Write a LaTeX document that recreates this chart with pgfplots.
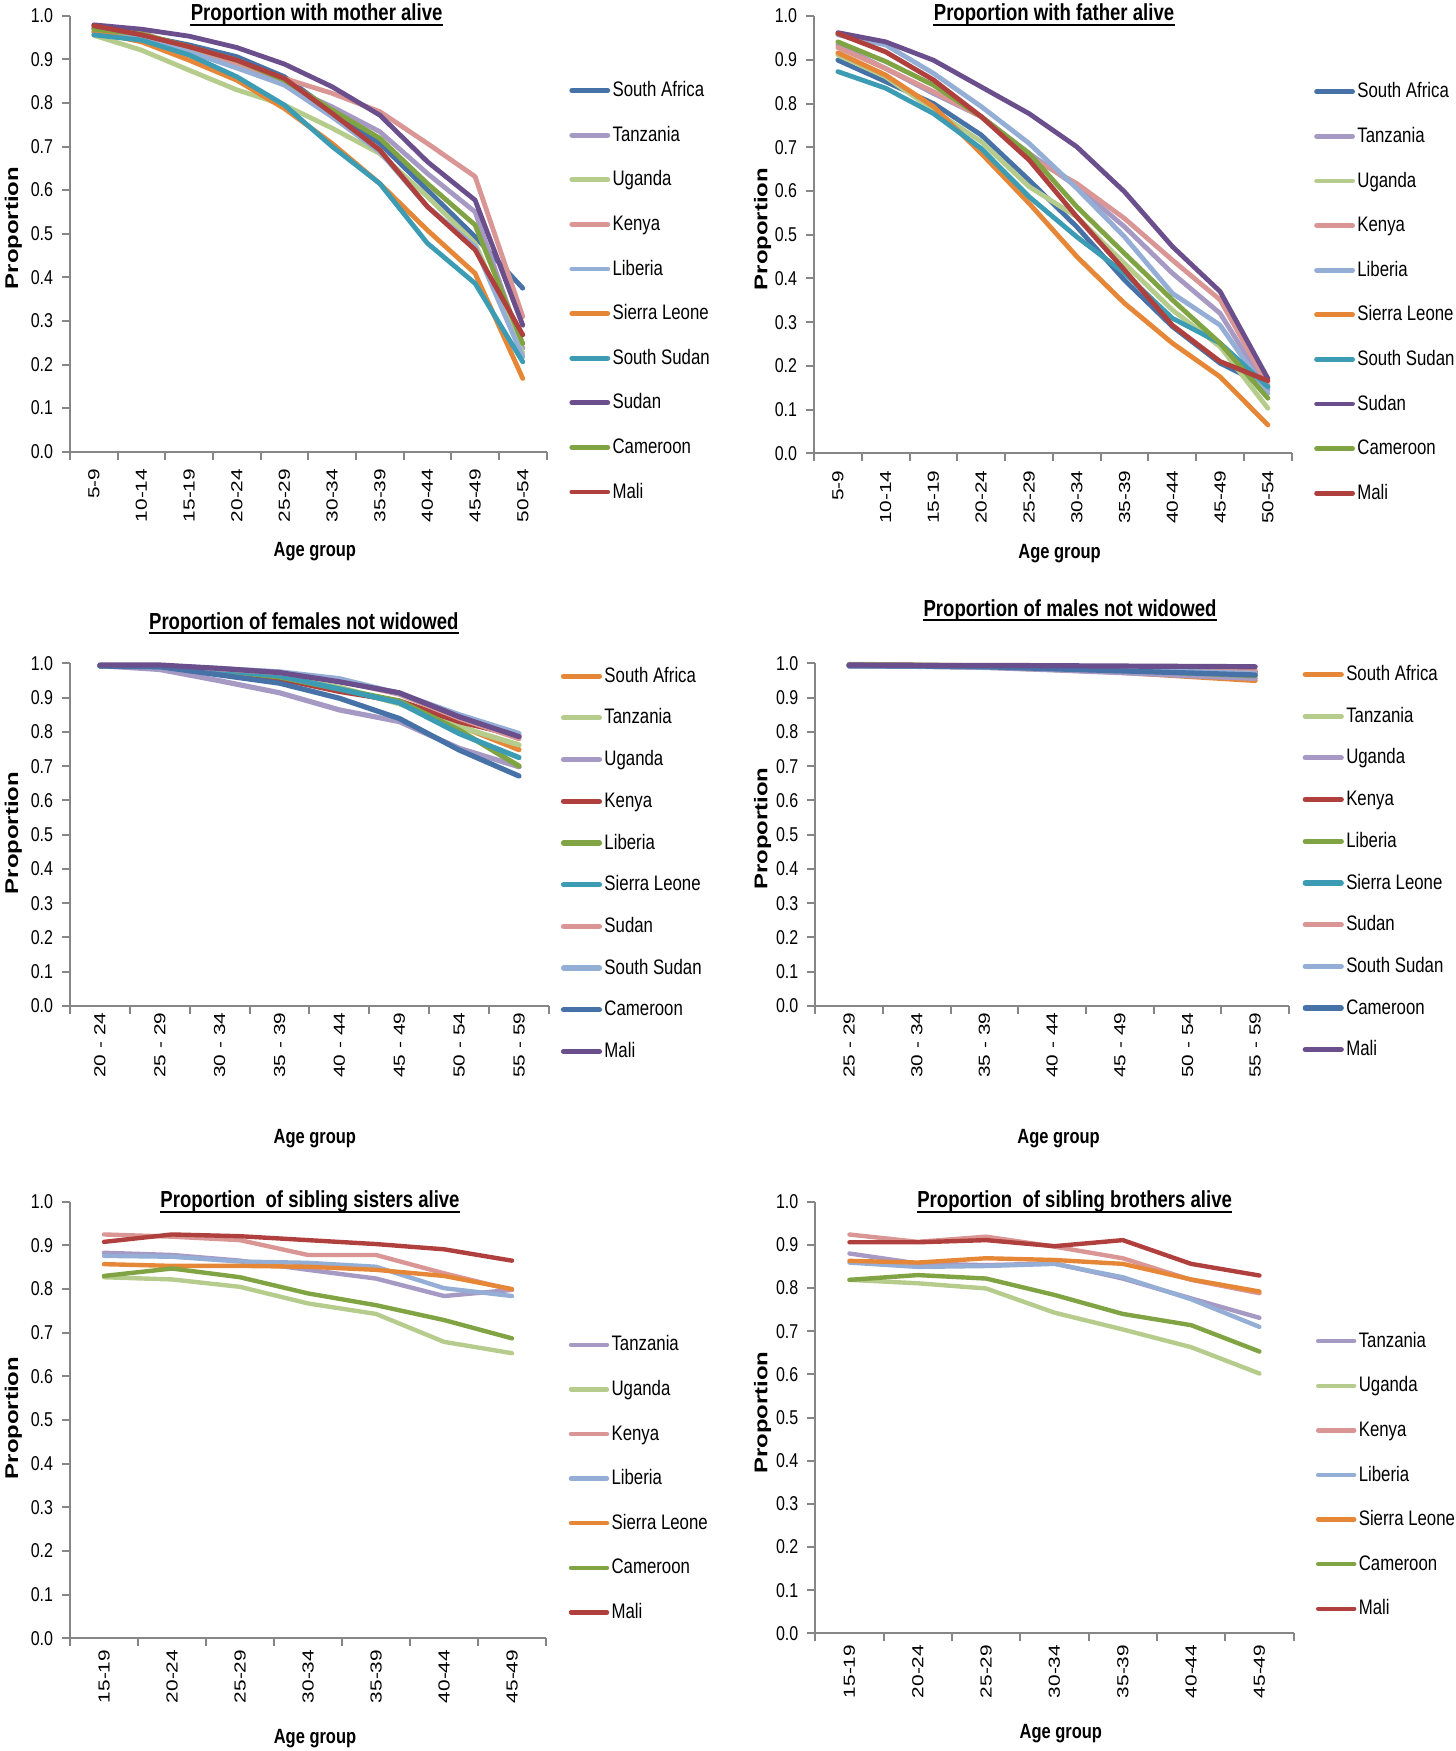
\documentclass[border=0pt]{standalone}
\usepackage{pgfplots}
\usepackage{pgfplotstable}
\pgfplotsset{compat=1.18}
\usepackage{fontspec}
\setmainfont{Liberation Sans}[FakeStretch=0.8]
\newfontfamily\rotfont{Liberation Sans}[FakeStretch=1.3]

\definecolor{cSA}{RGB}{70,114,168}
\definecolor{cTZ}{RGB}{166,153,196}
\definecolor{cUG}{RGB}{181,204,141}
\definecolor{cKE}{RGB}{217,150,148}
\definecolor{cLR}{RGB}{149,174,214}
\definecolor{cSL}{RGB}{230,135,55}
\definecolor{cSS}{RGB}{60,156,180}
\definecolor{cSD}{RGB}{107,79,140}
\definecolor{cCM}{RGB}{128,163,67}
\definecolor{cML}{RGB}{176,64,61}
\definecolor{axgray}{RGB}{134,134,134}

\pgfplotstableread{
x SA TZ UG KE LR SL SS SD CM ML
0 0.971 0.970 0.955 0.974 0.962 0.963 0.956 0.979 0.969 0.977
1 0.955 0.955 0.921 0.962 0.950 0.940 0.944 0.969 0.958 0.956
2 0.933 0.920 0.875 0.921 0.917 0.898 0.910 0.953 0.929 0.929
3 0.906 0.890 0.830 0.890 0.880 0.852 0.860 0.927 0.898 0.898
4 0.860 0.841 0.795 0.856 0.841 0.787 0.795 0.889 0.852 0.856
5 0.780 0.791 0.742 0.822 0.768 0.707 0.700 0.837 0.784 0.776
6 0.707 0.734 0.684 0.780 0.688 0.615 0.615 0.772 0.719 0.692
7 0.600 0.638 0.585 0.707 0.562 0.508 0.478 0.665 0.615 0.562
8 0.493 0.550 0.478 0.631 0.470 0.409 0.386 0.577 0.520 0.463
9 0.375 0.237 0.226 0.310 0.218 0.168 0.206 0.290 0.248 0.268
}\mother

\pgfplotstableread{
x SA TZ UG KE LR SL SS SD CM ML
0 0.899 0.934 0.911 0.928 0.957 0.916 0.873 0.962 0.941 0.960
1 0.850 0.880 0.861 0.880 0.934 0.865 0.835 0.941 0.896 0.918
2 0.800 0.823 0.785 0.827 0.869 0.793 0.777 0.899 0.842 0.854
3 0.728 0.770 0.713 0.770 0.793 0.686 0.697 0.838 0.770 0.770
4 0.625 0.686 0.610 0.678 0.709 0.572 0.587 0.777 0.686 0.671
5 0.518 0.610 0.541 0.617 0.606 0.450 0.495 0.701 0.564 0.541
6 0.396 0.518 0.434 0.537 0.495 0.343 0.412 0.598 0.457 0.419
7 0.290 0.412 0.328 0.442 0.366 0.252 0.309 0.473 0.351 0.293
8 0.206 0.320 0.244 0.351 0.293 0.175 0.252 0.370 0.252 0.210
9 0.152 0.145 0.103 0.156 0.137 0.065 0.152 0.171 0.126 0.166
}\father

\pgfplotstableread{
x SA TZ UG KE LR SL SD SS CM ML
0 0.993 0.993 0.993 0.993 0.993 0.993 0.993 0.993 0.992 0.995
1 0.990 0.990 0.982 0.992 0.991 0.990 0.992 0.993 0.990 0.995
2 0.976 0.978 0.949 0.978 0.979 0.980 0.984 0.985 0.966 0.985
3 0.958 0.960 0.914 0.955 0.960 0.963 0.973 0.975 0.942 0.973
4 0.925 0.930 0.864 0.918 0.925 0.925 0.950 0.955 0.898 0.946
5 0.885 0.882 0.830 0.890 0.890 0.885 0.910 0.912 0.839 0.914
6 0.818 0.815 0.752 0.830 0.805 0.795 0.840 0.850 0.747 0.844
7 0.748 0.762 0.698 0.788 0.700 0.725 0.780 0.795 0.671 0.786
}\females

\pgfplotstableread{
x SA TZ UG KE LR SL SD SS CM ML
0 0.993 0.997 0.992 0.995 0.996 0.994 0.995 0.992 0.993 0.995
1 0.992 0.995 0.991 0.994 0.994 0.993 0.994 0.992 0.992 0.994
2 0.989 0.992 0.988 0.992 0.991 0.991 0.993 0.990 0.990 0.994
3 0.982 0.986 0.981 0.989 0.986 0.987 0.991 0.986 0.984 0.993
4 0.974 0.979 0.973 0.985 0.980 0.981 0.988 0.982 0.978 0.992
5 0.962 0.970 0.964 0.980 0.972 0.975 0.984 0.976 0.972 0.991
6 0.950 0.962 0.956 0.975 0.964 0.968 0.979 0.970 0.966 0.990
}\males

\pgfplotstableread{
x TZ UG KE LR SL CM ML
0 0.883 0.827 0.925 0.876 0.857 0.830 0.908
1 0.878 0.822 0.920 0.874 0.853 0.847 0.925
2 0.865 0.805 0.912 0.863 0.853 0.827 0.921
3 0.844 0.767 0.878 0.860 0.851 0.790 0.912
4 0.824 0.743 0.878 0.851 0.844 0.763 0.903
5 0.784 0.679 0.836 0.802 0.830 0.729 0.891
6 0.798 0.653 0.798 0.784 0.800 0.687 0.865
}\sisters

\pgfplotstableread{
x TZ UG KE LR SL CM ML
0 0.880 0.819 0.924 0.859 0.863 0.819 0.906
1 0.857 0.811 0.907 0.849 0.859 0.830 0.906
2 0.853 0.799 0.919 0.851 0.869 0.822 0.911
3 0.857 0.743 0.896 0.856 0.865 0.784 0.897
4 0.822 0.704 0.869 0.825 0.856 0.740 0.911
5 0.776 0.663 0.819 0.774 0.820 0.714 0.856
6 0.731 0.602 0.788 0.710 0.792 0.653 0.829
}\brothers

\pgfplotsset{
  panel/.style={
    scale only axis, clip=false,
    axis x line*=bottom, axis y line*=left,
    axis line style={-, draw=axgray, line width=1pt},
    ymin=0, ymax=1,
    ytick={0,0.1,0.2,0.3,0.4,0.5,0.6,0.7,0.8,0.9,1},
    yticklabels={0.0,0.1,0.2,0.3,0.4,0.5,0.6,0.7,0.8,0.9,1.0},
    tick align=outside,
    major tick length=4pt, minor tick length=4pt,
    every tick/.style={draw=axgray, line width=1pt},
    major x tick style={draw=none},
    yticklabel style={font=\fontsize{10}{12}\selectfont, inner sep=0pt},
    yticklabel shift=4.3pt,
    xticklabel style={font=\rotfont\fontsize{8}{10}\selectfont, rotate=90, anchor=east, inner sep=0pt},
    every axis plot/.append style={line width=2.4pt, line join=round, line cap=round, mark=none},
    legend style={draw=none, fill=none, inner sep=0pt, font=\fontsize{10.5}{12}\selectfont,
      nodes={inner sep=1.2pt, text height=8.1pt, text depth=2pt}, anchor=west},
    legend cell align=left,
    legend image code/.code={\draw[##1] (0pt,0pt) -- (18pt,0pt);},
  }
}

\begin{document}
\begin{tikzpicture}
\path[use as bounding box] (0,0) rectangle (728pt,-875.5pt);

% ---------- Panel 1: mother ----------
\begin{axis}[panel, at={(35pt,-225.85pt)}, anchor=south west, width=238.3pt, height=218pt,
  xmin=-0.5, xmax=9.5, xtick={0,...,9}, minor xtick={-0.5,0.5,...,9.5},
  xticklabels={5-9,10-14,15-19,20-24,25-29,30-34,35-39,40-44,45-49,50-54},
  xticklabel shift=4.4pt,
  legend style={at={(1.047,0.368)}, row sep=9.8pt}]
\addplot[cSA] table[x=x,y=SA]{\mother};
\addplot[cTZ] table[x=x,y=TZ]{\mother};
\addplot[cUG] table[x=x,y=UG]{\mother};
\addplot[cKE] table[x=x,y=KE]{\mother};
\addplot[cLR] table[x=x,y=LR]{\mother};
\addplot[cSL] table[x=x,y=SL]{\mother};
\addplot[cSS] table[x=x,y=SS]{\mother};
\addplot[cSD] table[x=x,y=SD]{\mother};
\addplot[cCM] table[x=x,y=CM]{\mother};
\addplot[cML] table[x=x,y=ML]{\mother};
\legend{South Africa,Tanzania,Uganda,Kenya,Liberia,Sierra Leone,South Sudan,Sudan,Cameroon,Mali}
\end{axis}

% ---------- Panel 2: father ----------
\begin{axis}[panel, at={(407pt,-226.67pt)}, anchor=south west, width=238.9pt, height=218.65pt,
  xmin=-0.5, xmax=9.5, xtick={0,...,9}, minor xtick={-0.5,0.5,...,9.5},
  xticklabels={5-9,10-14,15-19,20-24,25-29,30-34,35-39,40-44,45-49,50-54},
  xticklabel shift=4.4pt,
  legend style={at={(1.046,0.368)}, row sep=9.8pt}]
\addplot[cSA] table[x=x,y=SA]{\father};
\addplot[cTZ] table[x=x,y=TZ]{\father};
\addplot[cUG] table[x=x,y=UG]{\father};
\addplot[cKE] table[x=x,y=KE]{\father};
\addplot[cLR] table[x=x,y=LR]{\father};
\addplot[cSL] table[x=x,y=SL]{\father};
\addplot[cSS] table[x=x,y=SS]{\father};
\addplot[cSD] table[x=x,y=SD]{\father};
\addplot[cCM] table[x=x,y=CM]{\father};
\addplot[cML] table[x=x,y=ML]{\father};
\legend{South Africa,Tanzania,Uganda,Kenya,Liberia,Sierra Leone,South Sudan,Sudan,Cameroon,Mali}
\end{axis}

% ---------- Panel 3: females not widowed ----------
\begin{axis}[panel, at={(35pt,-503pt)}, anchor=south west, width=239.5pt, height=171.35pt,
  xmin=-0.5, xmax=7.5, xtick={0,...,7}, minor xtick={-0.5,0.5,...,7.5},
  xticklabels={20 - 24,25 - 29,30 - 34,35 - 39,40 - 44,45 - 49,50 - 54,55 - 59},
  xticklabel shift=-0.8pt,
  every axis plot/.append style={line width=2.6pt},
  legend style={at={(1.024,0.415)}, row sep=8.35pt}]
\addplot[cSL] table[x=x,y=SA]{\females};
\addplot[cUG] table[x=x,y=TZ]{\females};
\addplot[cTZ] table[x=x,y=UG]{\females};
\addplot[cML] table[x=x,y=KE]{\females};
\addplot[cCM] table[x=x,y=LR]{\females};
\addplot[cSS] table[x=x,y=SL]{\females};
\addplot[cKE] table[x=x,y=SD]{\females};
\addplot[cLR] table[x=x,y=SS]{\females};
\addplot[cSA] table[x=x,y=CM]{\females};
\addplot[cSD] table[x=x,y=ML]{\females};
\legend{South Africa,Tanzania,Uganda,Kenya,Liberia,Sierra Leone,Sudan,South Sudan,Cameroon,Mali}
\end{axis}

% ---------- Panel 4: males not widowed ----------
\begin{axis}[panel, at={(407.65pt,-503pt)}, anchor=south west, width=236.85pt, height=171.35pt,
  xmin=-0.5, xmax=6.5, xtick={0,...,6}, minor xtick={-0.5,0.5,...,6.5},
  xticklabels={25 - 29,30 - 34,35 - 39,40 - 44,45 - 49,50 - 54,55 - 59},
  xticklabel shift=-0.8pt,
  every axis plot/.append style={line width=2.6pt},
  legend style={at={(1.028,0.42)}, row sep=8.35pt}]
\addplot[cSL] table[x=x,y=SA]{\males};
\addplot[cUG] table[x=x,y=TZ]{\males};
\addplot[cTZ] table[x=x,y=UG]{\males};
\addplot[cML] table[x=x,y=KE]{\males};
\addplot[cCM] table[x=x,y=LR]{\males};
\addplot[cSS] table[x=x,y=SL]{\males};
\addplot[cKE] table[x=x,y=SD]{\males};
\addplot[cLR] table[x=x,y=SS]{\males};
\addplot[cSA] table[x=x,y=CM]{\males};
\addplot[cSD] table[x=x,y=ML]{\males};
\legend{South Africa,Tanzania,Uganda,Kenya,Liberia,Sierra Leone,Sudan,South Sudan,Cameroon,Mali}
\end{axis}

% ---------- Panel 5: sisters ----------
\begin{axis}[panel, at={(35pt,-819.15pt)}, anchor=south west, width=238pt, height=218.3pt,
  xmin=-0.5, xmax=6.5, xtick={0,...,6}, minor xtick={-0.5,0.5,...,6.5},
  xticklabels={15-19,20-24,25-29,30-34,35-39,40-44,45-49},
  xticklabel shift=1.6pt,
  every axis plot/.append style={line width=2.2pt},
  legend style={at={(1.047,0.366)}, row sep=9.8pt}]
\addplot[cTZ] table[x=x,y=TZ]{\sisters};
\addplot[cUG] table[x=x,y=UG]{\sisters};
\addplot[cKE] table[x=x,y=KE]{\sisters};
\addplot[cLR] table[x=x,y=LR]{\sisters};
\addplot[cSL] table[x=x,y=SL]{\sisters};
\addplot[cCM] table[x=x,y=CM]{\sisters};
\addplot[cML] table[x=x,y=ML]{\sisters};
\legend{Tanzania,Uganda,Kenya,Liberia,Sierra Leone,Cameroon,Mali}
\end{axis}

% ---------- Panel 6: brothers ----------
\begin{axis}[panel, at={(407.65pt,-816.65pt)}, anchor=south west, width=239.15pt, height=215.8pt,
  xmin=-0.5, xmax=6.5, xtick={0,...,6}, minor xtick={-0.5,0.5,...,6.5},
  xticklabels={15-19,20-24,25-29,30-34,35-39,40-44,45-49},
  xticklabel shift=1.6pt,
  every axis plot/.append style={line width=2.2pt},
  legend style={at={(1.046,0.367)}, row sep=9.8pt}]
\addplot[cTZ] table[x=x,y=TZ]{\brothers};
\addplot[cUG] table[x=x,y=UG]{\brothers};
\addplot[cKE] table[x=x,y=KE]{\brothers};
\addplot[cLR] table[x=x,y=LR]{\brothers};
\addplot[cSL] table[x=x,y=SL]{\brothers};
\addplot[cCM] table[x=x,y=CM]{\brothers};
\addplot[cML] table[x=x,y=ML]{\brothers};
\legend{Tanzania,Uganda,Kenya,Liberia,Sierra Leone,Cameroon,Mali}
\end{axis}

% ---------- Titles ----------
\tikzset{ttl/.style={anchor=base, inner sep=0pt, font=\bfseries\fontsize{11.6}{14}\selectfont},
         ylab/.style={rotate=90, inner sep=0pt, font=\rotfont\bfseries\fontsize{9.2}{11}\selectfont},
         xlab/.style={anchor=base, inner sep=0pt, font=\bfseries\fontsize{10.3}{12}\selectfont}}
\node[ttl] (t1) at (158.3pt,-10.25pt) {Proportion with mother alive};
\node[ttl] (t2) at (527pt,-10.25pt) {Proportion with father alive};
\node[ttl] (t3) at (151.9pt,-314.6pt) {Proportion of females not widowed};
\node[ttl] (t4) at (535pt,-308pt) {Proportion of males not widowed};
\node[ttl] (t5) at (155pt,-603.75pt) {Proportion\ \ of sibling sisters alive};
\node[ttl] (t6) at (537.3pt,-603.75pt) {Proportion\ \ of sibling brothers alive};
\foreach \t in {t1,t2,t3,t4,t5,t6}{
  \draw[line width=1pt] ([yshift=-2.1pt]\t.base west) -- ([yshift=-2.1pt]\t.base east);
}

% ---------- Y labels ----------
\node[ylab] at (6.65pt,-114pt) {Proportion};
\node[ylab] at (381.3pt,-114.5pt) {Proportion};
\node[ylab] at (6.65pt,-416.5pt) {Proportion};
\node[ylab] at (381.3pt,-414.3pt) {Proportion};
\node[ylab] at (6.65pt,-709pt) {Proportion};
\node[ylab] at (381.3pt,-706.25pt) {Proportion};

% ---------- X labels ----------
\node[xlab] at (157.4pt,-278pt) {Age group};
\node[xlab] at (529.8pt,-279pt) {Age group};
\node[xlab] at (157.4pt,-571.5pt) {Age group};
\node[xlab] at (529.3pt,-571.5pt) {Age group};
\node[xlab] at (157.5pt,-871.5pt) {Age group};
\node[xlab] at (530.4pt,-869.3pt) {Age group};
\end{tikzpicture}
\end{document}
